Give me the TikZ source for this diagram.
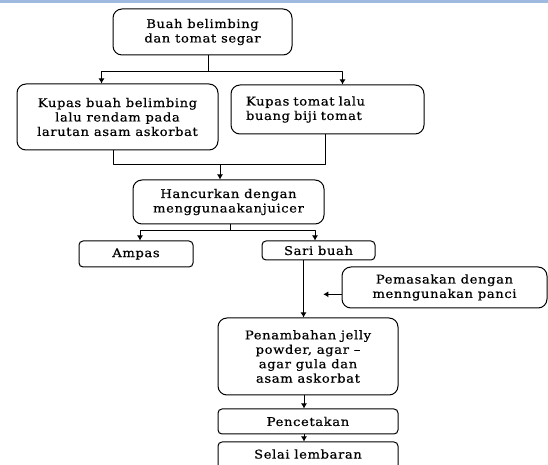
\documentclass[tikz,border=0pt]{standalone}
\usepackage{fontspec}
\setmainfont{DejaVu Serif}[LetterSpace=5,FakeStretch=1.1,FakeBold=0.6]
\usepackage{tikz}
\usetikzlibrary{arrows.meta,shapes}

\definecolor{barcol}{rgb}{0.62,0.73,0.88}
\tikzset{
  procbox/.style={draw, rounded corners=9bp, align=center, inner sep=0bp,
    font=\fontsize{12}{14.5}\selectfont},
  smallbox/.style={procbox, rounded corners=4bp},
}

\begin{document}
\begin{tikzpicture}[>={Latex[length=5bp,width=6bp]},line join=bevel,x=1bp,y=1bp]
  \pgfsetlinewidth{1bp}
  \useasboundingbox (0bp,0bp) rectangle (548bp,465bp);
  \fill[barcol] (0bp,462bp) rectangle (548bp,465bp);
%%
  % Node: buah
  \node[procbox, minimum width=179bp, minimum height=46bp] (buah) at (202.5bp,433bp) {Buah belimbing\\dan tomat segar};
  % Node: kupasb
  \node[procbox, minimum width=201bp, minimum height=66bp] (kupasb) at (117.5bp,348bp) {Kupas buah belimbing\\lalu rendam pada\\larutan asam askorbat};
  % Node: kupast
  \node[procbox, align=left, text width=163bp, inner xsep=15bp, minimum height=49bp] (kupast) at (327.5bp,355.5bp) {Kupas tomat lalu\\buang biji tomat\\[-4bp]};
  % Node: hancur
  \node[procbox, minimum width=191bp, minimum height=44bp] (hancur) at (228.5bp,263bp) {Hancurkan dengan\\menggunaakanjuicer};
  % Node: ampas
  \node[smallbox, minimum width=114bp, minimum height=26bp] (ampas) at (136bp,211bp) {Ampas};
  % Node: sari
  \node[smallbox, minimum width=113bp, minimum height=19bp] (sari) at (318.5bp,214.5bp) {Sari buah};
  % Node: masak
  \node[procbox, minimum width=205bp, minimum height=41bp] (masak) at (444.5bp,177.5bp) {Pemasakan dengan\\menngunakan panci};
  % Node: tambah
  \node[procbox, minimum width=180bp, minimum height=77bp] (tambah) at (308bp,108.5bp) {Penambahan jelly\\powder, agar --\\agar gula dan\\asam askorbat};
  % Node: cetak
  \node[smallbox, minimum width=180bp, minimum height=25bp] (cetak) at (308bp,43.5bp) {Pencetakan};
  % Node: selai
  \node[smallbox, minimum width=180bp, minimum height=30bp] (selai) at (308bp,8bp) {\raisebox{6bp}{Selai lembaran}};
%%
  % Edge: buah -> kupasb, kupast
  \coordinate (s1) at (208bp,393.3bp);
  \draw (s1 |- buah.south) -- (s1);
  \draw [->] (s1) -| ([xshift=-16bp]kupasb.north);
  \draw [->] (s1) -| ([xshift=15bp]kupast.north);
  % Edge: kupasb, kupast -> hancur
  \coordinate (s2) at (220bp,300bp);
  \draw ([xshift=-4.5bp]kupasb.south) |- (s2);
  \draw ([xshift=-2.5bp]kupast.south) |- (s2);
  \draw [->] (s2) -- (s2 |- hancur.north);
  % Edge: hancur -> ampas, sari
  \coordinate (s3) at (230.7bp,234.3bp);
  \draw (s3 |- hancur.south) -- (s3);
  \draw [->] (s3) -| ([xshift=4bp]ampas.north);
  \draw [->] (s3) -| ([xshift=-3.5bp]sari.north);
  % Edge: sari -> tambah
  \draw [->] ([xshift=-15bp]sari.south) -- ([xshift=-15bp]sari.south |- tambah.north);
  % Edge: masak -> (line)
  \coordinate (m1) at (323.3bp,170.7bp);
  \draw [->] (m1 -| masak.west) -- (m1);
  % Edge: tambah -> cetak -> selai
  \draw [->] ([xshift=-4bp]tambah.south) -- ([xshift=-4bp]cetak.north);
  \draw [->] ([xshift=-4bp]cetak.south) -- ([xshift=-4bp]selai.north);
%
\end{tikzpicture}
\end{document}
